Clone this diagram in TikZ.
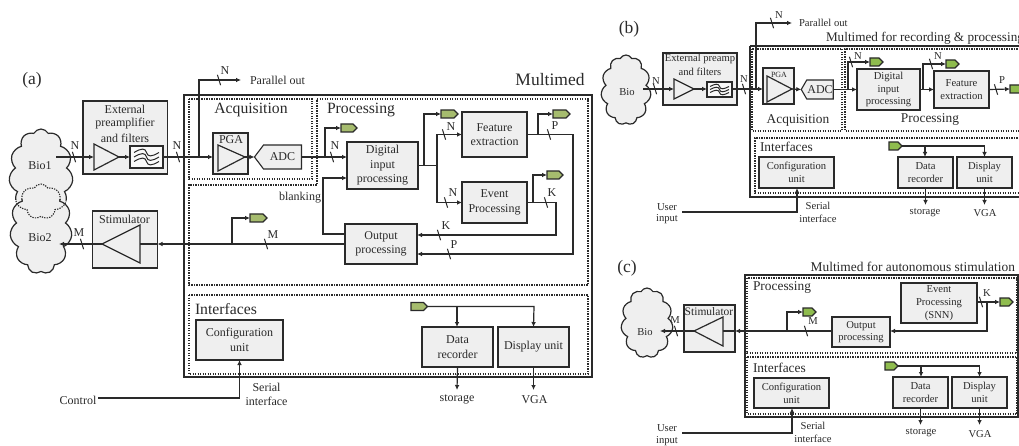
\documentclass[tikz,border=0pt]{standalone}
\usepackage{fontspec}
\setmainfont{Liberation Serif}
\usetikzlibrary{arrows.meta,shapes.symbols,calc}
\definecolor{ink}{HTML}{2A2A2A}
\definecolor{boxfill}{HTML}{EFEFEF}
\definecolor{tagg}{HTML}{A6BC6E}
\definecolor{tagb}{HTML}{8FBC4E}
\newcounter{lc}
\newcommand{\fs}[1]{\fontsize{#1}{#1}\selectfont}
\tikzset{
  x=1pt,y=-1pt,
  every node/.style={text=ink,inner sep=0pt,outer sep=0pt},
  ln/.style={draw=ink,line width=1.2pt},
  arr/.style={ln,-{Latex[length=5pt,width=4.6pt]}},
  thin tick/.style={draw=ink,line width=1pt},
  boxn/.style={draw=ink,line width=1.3pt,fill=boxfill,align=center},
  txa/.style={font=\fontsize{12}{14.4}\selectfont},
  txb/.style={font=\fontsize{10.6}{12.7}\selectfont},
  dot/.style={draw=ink,line width=1.1pt,dash pattern=on 1.3pt off 1.2pt},
  outer/.style={draw=ink,line width=1.3pt},
  tagn/.style={shape=signal,signal to=east,signal pointer angle=90,draw=ink,line width=1.1pt,fill=tagg,minimum height=8pt},
  adcn/.style={shape=signal,signal to=west,draw=ink,line width=1.1pt,fill=boxfill},
  bioc/.style={shape=cloud,cloud puffs=11,cloud puff arc=125,cloud ignores aspect},
  lab/.style={font=\fs{12}},
  labs/.style={font=\fontsize{10.6}{12.7}\selectfont,align=center},
  tick/.style={font=\fs{12}},
  head/.style={font=\fs{15.7}},
  headb/.style={font=\fs{13.4}},
  pan/.style={font=\fs{17.5}},
}
\newcommand{\bx}[7][txa]{\node[boxn,#1,minimum width={(#5-#3)*1pt},minimum height={(#6-#4)*1pt}] (#2) at ({(#3+#5)/2},{(#4+#6)/2}) {#7};}
\newcommand{\tg}[5][tagg]{\node[tagn,fill=#1,minimum width={(#4-#3)*1pt}] (#2) at ({(#3+#4)/2},#5) {};}
\newcommand{\lb}[4][lab]{\stepcounter{lc}\node[#1] (L\thelc) at (#2,#3) {#4};}
\newcommand{\lbl}[4][lab]{\stepcounter{lc}\node[#1,anchor=west] (L\thelc) at (#2,#3) {#4};}
\newcommand{\slsh}[2]{\draw[thin tick] (#1-1.6,#2-5.2) -- (#1+1.6,#2+5.2);}
\newcommand{\waves}[5]{\foreach \k in {-1,0,1}{\draw[draw=ink,line width=1pt] (#1,#3+\k*#5) .. controls ({#1+(#2-#1)*0.3},{#3+\k*#5-#4}) and ({#1+(#2-#1)*0.45},{#3+\k*#5-#4}) .. ({(#1+#2)/2},#3+\k*#5) .. controls ({#1+(#2-#1)*0.55},{#3+\k*#5+#4}) and ({#1+(#2-#1)*0.7},{#3+\k*#5+#4}) .. (#2,#3+\k*#5);}}
\begin{document}
\begin{tikzpicture}
\clip (0,0) rectangle (1019,446);
\fill[white] (0,0) rectangle (1019,446);

%%%%%%%%%%%%%%%% PANEL A
\lb[pan]{32}{80}{(a)}
\node[bioc,fill=boxfill,minimum width=64pt,minimum height=90pt] (bioA) at (41,174) {};
\node[bioc,fill=boxfill,minimum width=62pt,minimum height=90pt] (bioB) at (41,229) {};
\begin{scope}\clip (0,120) rectangle (100,200);
\node[bioc,draw=ink,line width=1.2pt,minimum width=64pt,minimum height=90pt] (bioAs) at (41,174) {};
\end{scope}
\begin{scope}\clip (0,200) rectangle (100,280);
\node[bioc,dot,minimum width=64pt,minimum height=90pt] (bioAd) at (41,174) {};
\node[bioc,draw=ink,line width=1.2pt,minimum width=62pt,minimum height=90pt] (bioBs) at (41,229) {};
\end{scope}
\begin{scope}\clip (0,120) rectangle (100,200);
\node[bioc,dot,minimum width=62pt,minimum height=90pt] (bioBd) at (41,229) {};
\end{scope}
\lb[lab]{40}{166}{Bio1}
\lb[lab]{40}{238}{Bio2}

\draw[outer] (184,95) rectangle (592,377);
\draw[dot] (189,99) rectangle (312,179);
\draw[dot] (317,99) -- (588,99) -- (588,285) -- (189,285) -- (189,185) -- (317,185) -- cycle;
\draw[dot] (189,295) rectangle (588,374);
\lb[head]{251}{110}{Acquisition}
\lbl[head]{327}{110}{Processing}
\lbl[head]{195}{309}{Interfaces}
\lb[pan]{550}{80}{Multimed}

\bx{ext}{83}{101}{167.5}{174}{}
\lb[lab]{125}{109}{External}
\lb[lab]{125}{124}{preamplifier}
\lb[lab]{125}{138}{and filters}
\coordinate (ain) at (56,157);
\coordinate (atW) at (94,157);
\coordinate (atE) at (119,157);
\draw[ln] (94,144) -- (atE) -- (94,170) -- cycle;
\node[boxn,fill=white!60!boxfill,minimum width=33pt,minimum height=22pt] (flt) at (146.5,157) {};
\waves{134}{159}{157}{4.5}{4.5}
\bx{pga}{213}{133}{248}{174}{}
\lb[lab]{231}{140}{PGA}
\coordinate (pgW) at (218,157);
\coordinate (pgE) at (245,157);
\draw[ln] (218,145) -- (pgE) -- (218,171) -- cycle;
\node[adcn,signal pointer angle=106,minimum width=47pt,minimum height=24pt,font=\fs{12}] (adc) at (282.5,157) {ADC};
\bx{dig}{347}{142}{418}{189}{Digital\\input\\processing}
\bx{fe}{462}{112}{527}{157}{Feature\\extraction}
\bx{ev}{462}{182}{527}{223}{Event\\Processing}
\bx{op}{345}{224}{417}{264}{Output\\processing}
\bx{sti}{92.5}{211}{157.5}{268}{}
\lb[lab]{124.5}{219}{Stimulator}
\coordinate (stT) at (102,244);
\coordinate (stB) at (140,244);
\draw[ln] (stT) -- (140,225) -- (140,263) -- cycle;
\bx{cfg}{196}{320}{283}{360}{Configuration\\unit}
\bx{rec}{422}{327}{493}{367}{Data\\recorder}
\bx{dsp}{498}{327}{569}{367}{Display unit}
\tg{ta}{339}{355}{128}
\tg{tb}{439}{456}{114}
\tg{tc}{551}{568}{114}
\tg{td}{545}{561}{175}
\tg{te}{248}{265}{218}
\tg{tf}{409}{425.5}{306.5}

\draw[arr] (ain) -- (atW);
\draw[arr] (atE) -- (flt.west);
\draw[arr] (flt.east) -- (pgW -| pga.west);
\draw[arr] (pgE) -- (adc.west);
\coordinate (aJ) at (199,157);
\coordinate (apoE) at (241,80);
\draw[arr] (aJ) |- (apoE);
\lbl[lab]{250}{80}{Parallel out}
\slsh{219}{80} \lb[tick]{225}{71}{N}
\slsh{74}{157} \lb[tick]{75}{146}{N}
\slsh{178}{157} \lb[tick]{177}{146}{N}
\draw[arr] (adc.east) -- (adc.east -| dig.west);
\coordinate (aJ1) at (325,157);
\draw[arr] (aJ1) |- (ta.west);
\slsh{332}{157} \lb[tick]{335}{146}{N}
\coordinate (aJ2) at (424,165.5);
\coordinate (aJ3) at (437,165.5);
\draw[ln] (dig.east) -- (aJ3);
\draw[arr] (aJ2) |- (tb.west);
\draw[arr] (aJ3) |- (fe.west);
\draw[arr] (aJ3) |- (ev.west);
\slsh{444}{134.5} \lb[tick]{451}{127}{N}
\slsh{446}{202.5} \lb[tick]{453}{193}{N}
\coordinate (opK) at (417,235);
\coordinate (opP) at (417,254);
\coordinate (cP) at (573,254);
\coordinate (cK) at (556,235);
\draw[arr] (fe.east) -| (cP) -- (opP);
\draw[arr] (ev.east) -| (cK) -- (opK);
\coordinate (aJ4) at (538,134.5);
\coordinate (aJ5) at (533,202.5);
\draw[arr] (aJ4) |- (tc.west);
\draw[arr] (aJ5) |- (td.west);
\slsh{549}{134.5} \lb[tick]{555}{126}{P}
\slsh{546}{202.5} \lb[tick]{552}{193}{K}
\slsh{439}{235} \lb[tick]{446}{226}{K}
\slsh{449}{254} \lb[tick]{454}{245}{P}
\coordinate (opB) at (345,234);
\coordinate (digB) at (347,178);
\coordinate (blk) at (323,178);
\draw[arr] (opB) -| (blk) -- (digB);
\lb[lab]{300}{198}{blanking}
\draw[arr] (op.west) -- (op.west -| sti.east);
\draw[ln] (op.west -| sti.east) -- (stB);
\coordinate (bio2in) at (59,244);
\draw[arr] (stT) -- (bio2in);
\coordinate (aJ6) at (232,244);
\draw[arr] (aJ6) |- (te.west);
\slsh{266}{244} \lb[tick]{273}{235}{M}
\slsh{82}{244} \lb[tick]{79}{233}{M}
\coordinate (ctl) at (98,398);
\coordinate (ctlc) at (239.5,398);
\draw[arr] (ctl) -- (ctlc) -- (ctlc |- cfg.south);
\lb[lab]{78}{400}{Control}
\lb[lab]{266.5}{387}{Serial}
\lb[lab]{266.5}{401}{interface}
\coordinate (aJ7) at (457,306.5);
\coordinate (aK) at (534,306.5);
\draw[arr] (tf.east) -- (aK) -- (dsp.north |- rec.north);
\draw[arr] (aJ7) -- (rec.north -| aJ7);
\coordinate (sto) at (457,390);
\coordinate (vga) at (533.5,390);
\draw[arr] (rec.south) -- (sto);
\draw[arr] (dsp.south) -- (vga);
\lb[lab]{457}{399}{storage}
\lb[lab]{534.5}{400}{VGA}

%%%%%%%%%%%%%%%% PANEL B
\lb[pan]{629}{29}{(b)}
\node[bioc,fill=boxfill,draw=ink,line width=1.2pt,minimum width=50pt,minimum height=70pt] (bioP) at (626,90) {};
\lb[labs]{627}{92}{Bio}
\draw[outer] (750,46) -- (1025,46) (750,46) -- (750,197) -- (1025,197);
\draw[dot] (752,49) rectangle (842,131);
\draw[dot] (1025,49) -- (845,49) -- (845,131) -- (1025,131);
\draw[dot] (1025,138) -- (755,138) -- (755,193) -- (1025,193);
\node[font=\fs{13.2},anchor=west] (tB) at (826,38) {Multimed for recording \& processing};
\lb[headb]{798}{120}{Acquisition}
\lb[headb]{930}{120}{Processing}
\lbl[headb]{760}{147}{Interfaces}

\bx[txb]{ext2}{663}{53}{737}{105}{}
\lb[labs]{700}{59}{External preamp}
\lb[labs]{700}{72}{and filters}
\coordinate (bin) at (643,89);
\coordinate (btW) at (674,89);
\coordinate (btE) at (694,89);
\draw[ln] (674,79) -- (btE) -- (674,99) -- cycle;
\node[boxn,fill=white!60!boxfill,minimum width=25pt,minimum height=15pt] (flt2) at (719.5,89.5) {};
\waves{710}{729}{89.5}{3}{3}
\bx{pga2}{763}{68}{794}{104}{}
\node[font=\fs{8}] (pgal2) at (779,75) {PGA};
\coordinate (bpW) at (767,89);
\coordinate (bpE) at (792,89);
\draw[ln] (767,76) -- (bpE) -- (767,102) -- cycle;
\node[adcn,signal pointer angle=120,minimum width=32pt,minimum height=19pt,font=\fs{12}] (adc2) at (820,89.5) {ADC};
\bx[txb]{dig2}{857}{69}{920}{110}{Digital\\input\\processing}
\bx[txb]{fe2}{934}{71}{989}{108}{Feature\\extraction}
\bx[txb]{cfg2}{759}{157}{834}{188}{Configuration\\unit}
\bx[txb]{rec2}{898}{157}{953}{188}{Data\\recorder}
\bx[txb]{dsp2}{957}{157}{1012}{188}{Display\\unit}
\tg[tagb]{tg}{868}{881}{62}
\tg[tagb]{th}{944}{957}{64}
\tg[tagb]{ti}{1008}{1025}{89}
\tg[tagb]{tj}{887}{900}{146}

\draw[arr] (bin) -- (btW);
\draw[arr] (btE) -- (flt2.west |- btE);
\draw[arr] (flt2.east |- btE) -- (pga2.west |- btE);
\draw[arr] (bpE) -- (adc2.west);
\draw[arr] (adc2.east) -- (adc2.east -| dig2.west);
\coordinate (bJ) at (756,89);
\coordinate (bpo) at (792,23);
\draw[arr] (bJ) |- (bpo);
\lbl[labs]{799}{23}{Parallel out}
\slsh{772}{23} \lb[labs]{779}{15}{N}
\slsh{655}{89} \lb[labs]{656}{81}{N}
\slsh{744}{89} \lb[labs]{744}{79}{N}
\coordinate (bJ1) at (848,89.5);
\draw[arr] (bJ1) |- (tg.west);
\slsh{851}{62} \lb[labs]{858}{56}{N}
\coordinate (fe2w) at (934,89.5);
\draw[arr] (dig2.east) -- (fe2.west);
\coordinate (bJ2) at (923,89.5);
\draw[arr] (bJ2) |- (th.west);
\slsh{931}{64} \lb[labs]{938}{56}{N}
\draw[arr] (fe2.east) -- (ti.west);
\slsh{996}{89.5} \lb[labs]{1002}{80}{P}
\coordinate (bU) at (682,212);
\coordinate (bUc) at (797,212);
\draw[arr] (bU) -- (bUc) -- (bUc |- cfg2.south);
\lb[labs]{667}{207}{User}
\lb[labs]{667}{219}{input}
\lb[labs]{818}{206}{Serial}
\lb[labs]{818}{219}{interface}
\coordinate (bJ3) at (925,146);
\coordinate (bK) at (984.5,146);
\draw[arr] (tj.east) -- (bK) -- (bK |- dsp2.north);
\draw[arr] (bJ3) -- (bJ3 |- rec2.north);
\coordinate (bsto) at (925.5,205);
\coordinate (bvga) at (984.5,205);
\draw[arr] (rec2.south) -- (bsto);
\draw[arr] (dsp2.south) -- (bvga);
\lb[labs]{925}{213}{storage}
\lb[labs]{985}{213}{VGA}

%%%%%%%%%%%%%%%% PANEL C
\lb[pan]{627}{268}{(c)}
\node[bioc,fill=boxfill,draw=ink,line width=1.2pt,minimum width=52pt,minimum height=70pt] (bioQ) at (647,323) {};
\lb[labs]{645}{332}{Bio}
\draw[outer] (745,275) rectangle (1018,417);
\draw[dot] (747,278) rectangle (1017,353);
\draw[dot] (747,357) rectangle (1017,414);
\node[font=\fs{13.4},anchor=east] (tC) at (1015,267) {Multimed for autonomous stimulation};
\lbl[headb]{753}{288}{Processing}
\lbl[headb]{753}{368}{Interfaces}
\bx[txb]{ev3}{901}{283}{977}{323}{Event\\Processing\\(SNN)}
\bx[txb]{op3}{832}{317}{890}{347}{Output\\processing}
\bx{sti3}{684}{305}{735}{352}{}
\node[font=\fs{11.5}] (stl3) at (709,312) {Stimulator};
\coordinate (ctT) at (694,331);
\coordinate (ctB) at (723,331);
\draw[ln] (ctT) -- (723,317) -- (723,346) -- cycle;
\bx[txb]{cfg3}{754}{378}{829}{408}{Configuration\\unit}
\bx[txb]{rec3}{893}{377}{948}{408}{Data\\recorder}
\bx[txb]{dsp3}{952}{377}{1007}{408}{Display\\unit}
\tg[tagb]{tk}{998}{1011}{302}
\tg[tagb]{tl}{801}{814}{312}
\tg[tagb]{tm}{883}{896}{366}

\draw[arr] (ev3.east |- tk.west) -- (tk.west);
\slsh{981}{302} \lb[labs]{987}{293}{K}
\coordinate (cJ) at (987,302);
\coordinate (op3e) at (890,331);
\draw[arr] (cJ) |- (op3e);
\coordinate (op3w) at (832,331);
\draw[arr] (op3w) -- (sti3.east |- op3w);
\draw[ln] (sti3.east |- op3w) -- (ctB);
\coordinate (cbio) at (660,331);
\draw[arr] (ctT) -- (cbio);
\slsh{676}{331} \lb[labs]{675}{320}{M}
\coordinate (cJ1) at (787,331);
\draw[arr] (cJ1) |- (tl.west);
\slsh{806}{331} \lb[labs]{813}{321}{M}
\coordinate (cU) at (682,433);
\coordinate (cUc) at (792,433);
\draw[arr] (cU) -- (cUc) -- (cUc |- cfg3.south);
\lb[labs]{667}{428}{User}
\lb[labs]{667}{441}{input}
\lb[labs]{813}{426}{Serial}
\lb[labs]{813}{439}{interface}
\coordinate (cJ3) at (921,366);
\coordinate (cK3) at (979.5,366);
\draw[arr] (tm.east) -- (cK3) -- (cK3 |- dsp3.north);
\draw[arr] (cJ3) -- (cJ3 |- rec3.north);
\coordinate (csto) at (920.5,425);
\coordinate (cvga) at (979.5,425);
\draw[arr] (rec3.south) -- (csto);
\draw[arr] (dsp3.south) -- (cvga);
\lb[labs]{921}{433}{storage}
\lb[labs]{980}{434}{VGA}
\end{tikzpicture}
\end{document}
